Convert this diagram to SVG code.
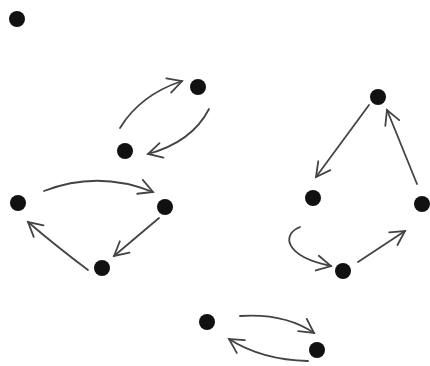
<svg xmlns="http://www.w3.org/2000/svg" width="430" height="366" viewBox="0 0 430 366">
<style>
.node{fill:#111;}
.edge{fill:none;stroke:#444;stroke-width:1.8;stroke-linecap:round;marker-end:url(#arr);}
</style>
<defs>
<marker id="arr" markerUnits="userSpaceOnUse" viewBox="-17 -10 20 20" markerWidth="20" markerHeight="20" refX="0" refY="0" orient="auto">
<path d="M-14,-7.5 L0,0 L-14,7.5" fill="none" stroke="#444" stroke-width="1.8" stroke-linecap="round" stroke-linejoin="miter"/>
</marker>
</defs>
<rect width="430" height="366" fill="#fff"/>
<g id="connectors">
<path class="edge" d="M120,128 Q140,95 182,81"/>
<path class="edge" d="M209,109 Q192,142 148,154"/>
<path class="edge" d="M44,191 Q98,170 153,192"/>
<path class="edge" d="M159,218 L114,256"/>
<path class="edge" d="M88,270 Q56,246 28,222"/>
<path class="edge" d="M369,105 L316,177"/>
<path class="edge" d="M417,184 L387,110"/>
<path class="edge" d="M300,227 C282,234 283,256 331,266"/>
<path class="edge" d="M358,262 L405,231"/>
<path class="edge" d="M240,316 Q285,313 314,333"/>
<path class="edge" d="M308,361 Q262,360 229,339"/>
</g>
<g id="nA"><circle class="node" cx="17" cy="19" r="8"/></g>
<g id="nB"><circle class="node" cx="198" cy="87" r="8"/></g>
<g id="nC"><circle class="node" cx="125" cy="151" r="8"/></g>
<g id="nD"><circle class="node" cx="18" cy="203" r="8"/></g>
<g id="nE"><circle class="node" cx="165" cy="207" r="8"/></g>
<g id="nF"><circle class="node" cx="102" cy="268" r="8"/></g>
<g id="nG"><circle class="node" cx="378" cy="97" r="8"/></g>
<g id="nH"><circle class="node" cx="313" cy="198" r="8"/></g>
<g id="nI"><circle class="node" cx="422" cy="204" r="8"/></g>
<g id="nJ"><circle class="node" cx="343" cy="271" r="8"/></g>
<g id="nK"><circle class="node" cx="207" cy="322" r="8"/></g>
<g id="nL"><circle class="node" cx="317" cy="350" r="8"/></g>
</svg>
